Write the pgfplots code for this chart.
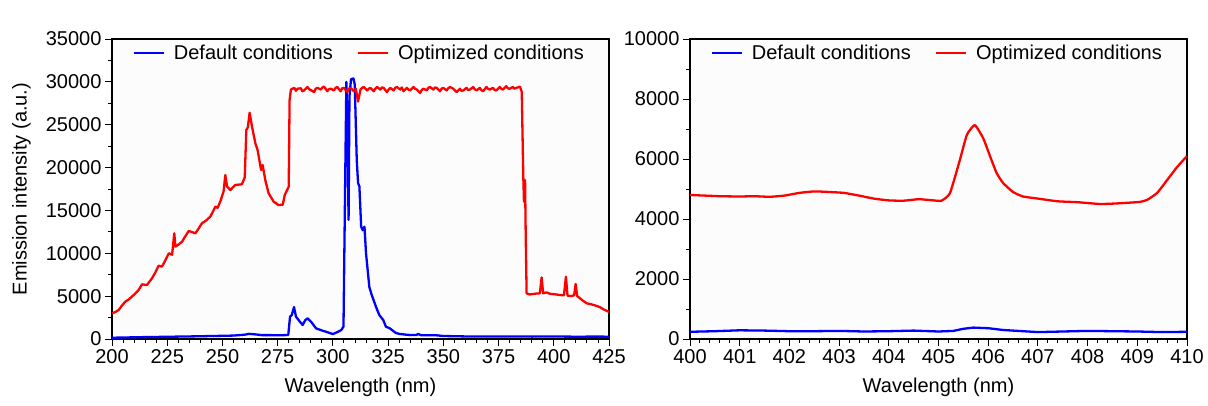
\documentclass[border=0pt]{standalone}
\usepackage{pgfplots}
\pgfplotsset{compat=1.18}
\usepackage{fontspec}
\setmainfont{Liberation Sans}
\definecolor{cred}{RGB}{255,0,0}
\definecolor{cblue}{RGB}{0,0,255}
\pgfplotsset{
  myaxis/.style={
    scale only axis, width=497pt, height=300pt, anchor=south west,
    axis line style={black, line width=1.2pt},
    axis background/.style={fill=black!1},
    tick align=outside, xtick pos=left, ytick pos=left,
    major tick length=7pt, minor tick length=4pt,
    every tick/.style={black, line width=0.9pt},
    tick label style={font=\fontsize{20}{24}\selectfont},
    label style={font=\fontsize{20}{24}\selectfont},
    /pgf/number format/assume math mode=true,
    /pgf/number format/1000 sep={},
    scaled y ticks=false, scaled x ticks=false,
    xlabel={Wavelength (nm)},
    xlabel style={at={(axis description cs:0.5,-0.16)}, anchor=center},
    legend columns=2,
    legend cell align=left,
    legend image code/.code={\draw[#1] (0pt,0pt) -- (30pt,0pt); \path (37pt,0pt);},
    legend style={draw=none, fill=none, font=\fontsize{20}{24}\selectfont,
      at={(axis description cs:0.035,0.995)}, anchor=north west,
      /tikz/every even column/.append style={column sep=22pt}},
  }
}
\begin{document}
\begin{tikzpicture}[x=1pt,y=1pt]
\path[use as bounding box] (0,0) rectangle (1208,405);
\begin{axis}[myaxis, at={(112pt,66pt)},
  xmin=200, xmax=425, ymin=0, ymax=35000,
  xtick={200,225,...,425}, minor x tick num=4,
  ytick={0,5000,...,35000}, minor y tick num=1,
  ylabel={Emission intensity (a.u.)},
  ylabel style={at={(axis description cs:-0.182,0.5)}, anchor=center, rotate=0},
]
\addplot[cblue, line width=2.3pt, line join=round] coordinates {
(200,150) (205,170) (210,200) (215,220) (220,240) (225,260) (230,280) (235,300) (240,320) (245,350) (250,370) (255,400) (260,500) (262,600) (264,560) (268,450) (272,450) (276,430) (279.8,470)
(280.6,2600) (281.4,2800) (282.4,3730) (283.3,2600) (284.5,2200) (286.3,1630) (287.5,2200) (288.6,2410) (290.1,2020) (292.4,1240) (295,1000) (298,750) (300,580) (302,800) (303.8,1050) (304.8,1440)
(305.5,17000) (306.1,30000) (306.5,26000) (307.1,13900) (307.5,28300) (308.2,30300) (309.3,30400) (309.9,29700) (310.8,20900) (311.4,18200) (312,17800) (312.8,13100) (313.5,12700) (314.3,13100) (315,10000) (316.5,6070) (317.5,5200) (319.5,3770) (321,2800) (322.8,2220) (324,1440) (325.8,1240) (328.5,700) (330.4,583) (334,480) (337.9,467) (338.5,600) (340,430) (347,430) (350,350) (360,300) (370,290) (380,300) (390,280) (400,290) (410,270) (420,280) (425,270)
};
\addlegendentry{Default conditions}
\addplot[cred, line width=2.3pt, line join=round] coordinates {
(200,2990) (201.5,3150) (203,3380) (204.5,3900) (206,4350) (207.5,4600) (209,4940) (210.5,5300) (212,5700) (213.6,6380) (215.8,6300) (218.1,7080) (219.5,7700) (221.1,8560) (222.6,8440) (224,9100) (225.7,10000) (227.2,9830) (228.2,12330) (228.7,10770) (230,11000) (231.7,11350) (233,11900) (234.7,12600) (236,12500) (237.7,12330) (239,12800) (240.7,13500) (242.5,13800) (244.5,14270) (246.8,15440) (247.8,15300) (249,16020) (250.5,17190) (251.3,19130) (252.1,17770) (253.6,17380) (255.8,17970) (257,18000) (258.8,18050) (260.1,18860) (260.8,24380) (261.5,24700) (262.3,26400) (263.4,24770) (264.9,22830) (265.9,22050) (267.5,19720) (268.2,20300) (269.4,18550) (270.9,17000) (273.2,16020) (275.4,15630) (277.3,15670) (278.2,16800) (280,17770) (280.4,27880) (281,29100)
(282.5,29300) (283.3,28950) (284,29200) (285.5,29250) (286.2,28900) (287,29000) (288.5,29400) (289.2,29150) (290,29050) (291.5,28800) (292.2,29200) (293,29300) (294.5,29100) (295.3,29350) (296,29450) (297.5,28900) (298.2,29150) (299,29200) (300.5,29000) (301.2,29300) (302,29400) (303.5,28900) (304.2,29250) (305,29300) (306.5,28800) (307.2,29200) (308,29300) (309.5,28900) (310.4,29200) (311.4,27700) (312.5,29100) (313.2,29300) (314,29400) (315.5,29000) (316.2,29200) (317,29300) (318.5,28900) (319.2,29200) (320,29400) (321.5,29100) (322.2,29350) (323,29300) (324.5,28800) (325.2,29100) (326,29300) (327.5,29000) (328.2,29300) (329,29400) (330.5,29100) (331.2,29350) (332,28900) (333.5,29300) (334.2,29100) (335,29000) (336.5,29400) (337.2,29200) (338,29100) (339.5,28700) (340.2,29050) (341,29200) (342.5,29000) (343.2,29300) (344,29400) (345.5,29100) (346.2,29350) (347,29300) (348.5,28900) (349.2,29200) (350,29300) (351.5,29000) (352.2,29250) (353,29400) (354.5,29200) (355.2,29000) (356,28800) (357.5,29200) (358.2,28950) (359,29000) (360.5,29300) (361.2,29050) (362,29100) (363.5,29400) (364.2,29150) (365,29000) (366.5,29300) (367.2,29050) (368,28900) (369.5,29400) (370.2,29200) (371,29100) (372.5,29300) (373.2,29050) (374,29000) (375.5,29400) (376.2,29200) (377,29100) (378.5,29500) (379.2,29250) (380,29200) (381.5,29400) (382.2,29200) (383,29300) (384.7,29430) (385.5,28860)
(386.2,18940) (386.5,16020) (387,18550) (387.3,12000) (387.7,5330) (389,5200) (390.7,5250) (392,5300) (393.7,5330) (394.5,7190) (395.2,5330) (396.7,5440) (398,5300) (399,5250) (401,5200) (402.8,5130) (404.6,5100) (405.5,7270) (406.2,5100) (406.6,5020) (408.1,5020) (409.2,5100) (409.9,6420) (410.6,5000) (411.2,4900) (413,4500) (415,4160) (417,4050) (419.5,3850) (421,3700) (422.5,3460) (424.8,3190) (425,3150)
};
\addlegendentry{Optimized conditions}
\node[anchor=base west, font=\fontsize{20}{24}\selectfont\bfseries] at (rel axis cs:0,1) [yshift=8pt] {(a)};
\end{axis}
\begin{axis}[myaxis, at={(690pt,66pt)},
  xmin=400, xmax=410, ymin=0, ymax=10000,
  xtick={400,401,...,410}, minor x tick num=4,
  ytick={0,2000,...,10000}, minor y tick num=1,
]
\addplot[cblue, line width=2.3pt, line join=round] coordinates {
(400,240) (400.5,260) (401,290) (401.5,280) (402,260) (402.5,260) (403,270) (403.5,250) (404,260) (404.5,280) (405,250) (405.3,270) (405.5,340) (405.7,380) (406,360) (406.3,300) (406.6,270) (407,230) (407.5,250) (408,270) (408.5,260) (409,250) (409.5,230) (410,240)
};
\addlegendentry{Default conditions}
\addplot[cred, line width=2.3pt, line join=round, smooth, tension=0.3] coordinates {
(400,4800) (400.3,4780) (400.6,4760) (401,4750) (401.3,4760) (401.6,4740) (401.9,4780) (402.2,4870) (402.5,4920) (402.8,4900) (403.1,4870) (403.4,4780) (403.7,4680) (404,4620) (404.3,4610) (404.6,4660) (404.9,4620) (405.06,4610) (405.23,4860) (405.43,5970) (405.57,6800) (405.73,7130) (405.9,6690) (406.04,6080) (406.17,5530) (406.3,5200) (406.5,4900) (406.7,4750) (407,4680) (407.4,4590) (407.8,4560) (408.25,4500) (408.6,4520) (409.05,4570) (409.2,4640) (409.4,4870) (409.6,5300) (409.8,5730) (410,6100)
};
\addlegendentry{Optimized conditions}
\node[anchor=base west, font=\fontsize{20}{24}\selectfont\bfseries] at (rel axis cs:0,1) [yshift=8pt] {(b)};
\end{axis}
\end{tikzpicture}
\end{document}
